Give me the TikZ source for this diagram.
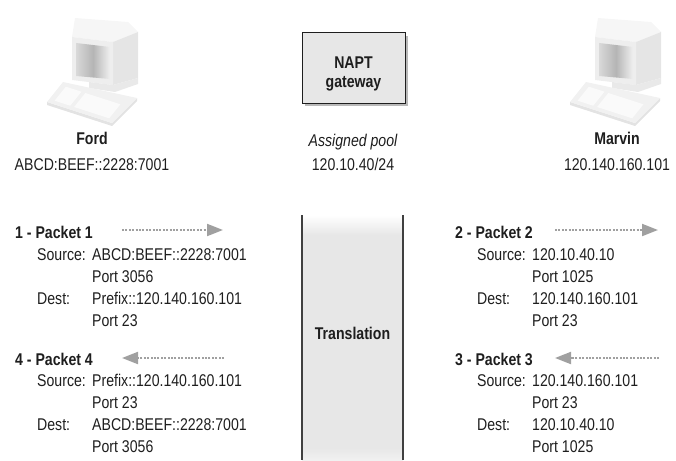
\documentclass[tikz,border=0pt]{standalone}
\usepackage{fontspec}
\setmainfont[FakeStretch=0.83]{Liberation Sans}
\usetikzlibrary{
  arrows.meta,
  shadows,
}
\definecolor{ink}{RGB}{30,30,30}
\definecolor{boxgray}{RGB}{231,231,231}
\definecolor{dotgray}{RGB}{160,160,160}
\definecolor{headgray}{RGB}{140,140,140}
\tikzstyle{pktarrow} = [
  -{Triangle[length=16pt,width=12pt]},
  dotgray,
  line width=2pt,
  dash pattern=on 2pt off 1.4pt,
]
\tikzstyle{lbl} = [
  inner sep=0pt,
  anchor=base,
  text=ink,
  font=\fontsize{17}{22}\selectfont,
]
% packet fields: source address/port, dest address/port
\newcommand\pktfields[4]{%
  \begin{tabular}[t]{@{}p{55pt}@{}l@{}}
    Source: & #1\\
            & #2\\
    Dest:   & #3\\
            & #4
  \end{tabular}}

\tikzset{
  pics/computer/.style={code={
    % monitor
    \fill[gray!7] (25,19) -- (28,0) -- (81,4) -- (91,14) -- (66,24) -- cycle;
    \fill[gray!20] (66,24) -- (91,14) -- (91,60) -- (66,67) -- cycle;
    \fill[gray!13] (25,19) -- (66,24) -- (66,67) -- (25,62) -- cycle;
    \shade[left color=gray!30, right color=gray!12, middle color=gray!58]
      (29,25) -- (63,29) -- (63,61) -- (29,58) -- cycle;
    % stand
    \fill[gray!17] (42,64) -- (66,67) -- (91,60) -- (91,66) -- (68,74) -- (42,70) -- cycle;
    % keyboard
    \fill[gray!22] (0,84) -- (65,105) -- (90,80) -- (90,83) -- (65,108) -- (0,87) -- cycle;
    \fill[gray!11] (0,84) -- (16,64) -- (90,80) -- (65,105) -- cycle;
    \fill[gray!4] (7.6,82.7) -- (23.2,87.7) -- (34.4,73.7) -- (18.8,68.7) -- cycle;
    \fill[gray!4] (27.1,89) -- (62.2,100.3) -- (73.4,86.3) -- (38.3,75) -- cycle;
  }},
}

\begin{document}
\begin{tikzpicture}[x=1pt, y=-1pt,
    bold/.style={lbl, font=\fontsize{17}{22}\selectfont\bfseries},
    gwbox/.style={draw=ink, line width=1pt, fill=boxgray,
                  minimum width=103pt, minimum height=70pt,
                  drop shadow={shadow xshift=3pt, shadow yshift=-3pt,
                               fill=gray!55, opacity=1}},
    fields/.style={lbl, anchor=base west}]
  \useasboundingbox (0,0) rectangle (676,460);

  % hosts
  \pic at (47,18) {computer};
  \pic at (570,18) {computer};
  \node[bold] (ford) at (92,144) {Ford};
  \node[lbl] (fordip) at (92,170) {ABCD:BEEF::2228:7001};
  \node[bold] (marvin) at (617,144) {Marvin};
  \node[lbl] (marvinip) at (617,170) {120.140.160.101};

  % gateway
  \node[gwbox] (gw) at (353.5,68) {};
  \node[bold] (gwl1) at (353.5,68) {NAPT};
  \node[bold] (gwl2) at (353.5,87) {gateway};
  \node[lbl, font=\fontsize{17}{22}\selectfont\itshape] (pool) at (353,146) {Assigned pool};
  \node[lbl] (poolnet) at (353,170) {120.10.40/24};

  % translation column
  \fill[boxgray] (302,235) rectangle (403,448);
  \shade[top color=white, bottom color=boxgray] (302,215) rectangle (403,235);
  \shade[top color=boxgray, bottom color=white!40!boxgray] (302,448) rectangle (403,460);
  \draw[ink!85, line width=1.4pt] (302,215) -- (302,460);
  \draw[ink!85, line width=1.4pt] (403,215) -- (403,460);
  \node[bold] (trans) at (352.5,339) {Translation};

  % packets on the Ford side
  \node[bold, anchor=base west] (pkt1) at (15,238) {1 - Packet 1};
  \node[fields] (pkt1f) at (37,260.5)
    {\pktfields{ABCD:BEEF::2228:7001}{Port 3056}{Prefix::120.140.160.101}{Port 23}};
  \node[bold, anchor=base west] (pkt4) at (15,365) {4 - Packet 4};
  \node[fields] (pkt4f) at (37,386.5)
    {\pktfields{Prefix::120.140.160.101}{Port 23}{ABCD:BEEF::2228:7001}{Port 3056}};

  % packets on the Marvin side
  \node[bold, anchor=base west] (pkt2) at (455,238) {2 - Packet 2};
  \node[fields] (pkt2f) at (477,260.5)
    {\pktfields{120.10.40.10}{Port 1025}{120.140.160.101}{Port 23}};
  \node[bold, anchor=base west] (pkt3) at (455,365) {3 - Packet 3};
  \node[fields] (pkt3f) at (477,386.5)
    {\pktfields{120.140.160.101}{Port 23}{120.10.40.10}{Port 1025}};

  % direction of each packet
  \coordinate (a1s) at (122,230);
  \coordinate (a1e) at (223,230);
  \coordinate (a4s) at (224,358);
  \coordinate (a4e) at (122,358);
  \coordinate (a2s) at (555,230);
  \coordinate (a2e) at (658,230);
  \coordinate (a3s) at (659,358);
  \coordinate (a3e) at (555,358);
  \draw[pktarrow] (a1s) -- (a1e);
  \draw[pktarrow] (a4s) -- (a4e);
  \draw[pktarrow] (a2s) -- (a2e);
  \draw[pktarrow] (a3s) -- (a3e);
\end{tikzpicture}
\end{document}
